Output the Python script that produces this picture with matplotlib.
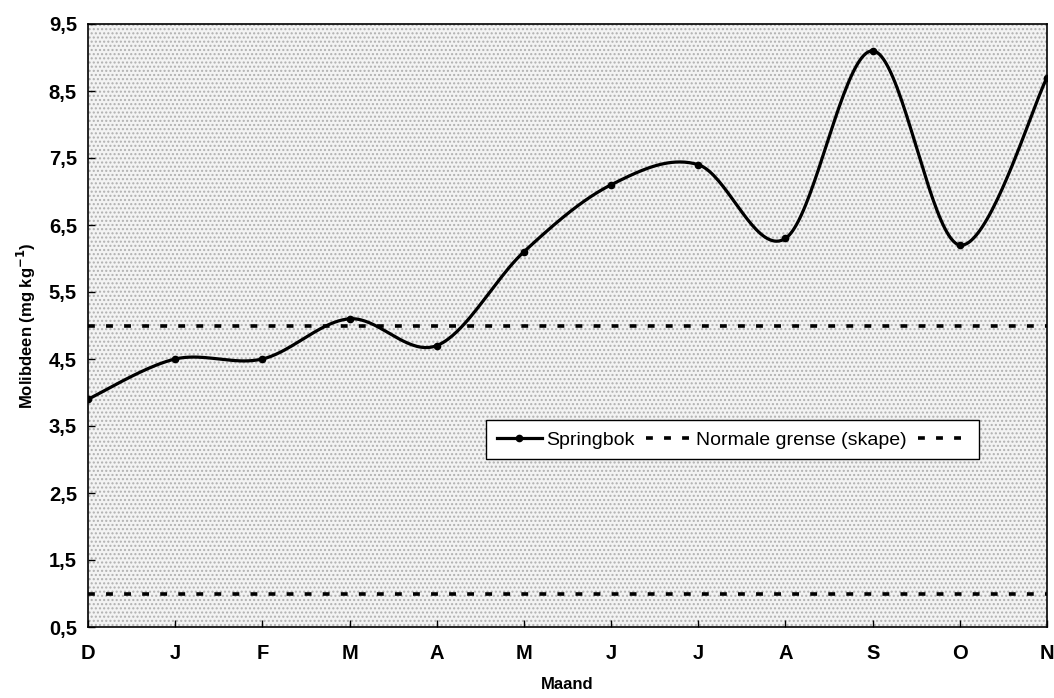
import numpy as np
import matplotlib
matplotlib.use('Agg')
from matplotlib import pyplot as plt
from matplotlib.patches import Rectangle

# data
months = ['D', 'J', 'F', 'M', 'A', 'M', 'J', 'J', 'A', 'S', 'O', 'N']
springbok = [3.9, 4.5, 4.5, 5.1, 4.7, 6.1, 7.1, 7.4, 6.3, 9.1, 6.2, 8.7]
grens_hoog = [5.0] * 12
grens_laag = [1.0] * 12
y_ticks = [0.5, 1.5, 2.5, 3.5, 4.5, 5.5, 6.5, 7.5, 8.5, 9.5]


def smooth(x, y, n=40):
    # Catmull-Rom style bezier, the same smoothing a spreadsheet uses
    x = np.asarray(x, float)
    y = np.asarray(y, float)
    px = np.concatenate([[x[0]], x, [x[-1]]])
    py = np.concatenate([[y[0]], y, [y[-1]]])
    xs, ys = [], []
    t = np.linspace(0, 1, n)
    for i in range(1, len(px) - 2):
        p0 = np.array([px[i], py[i]])
        p3 = np.array([px[i + 1], py[i + 1]])
        p1 = p0 + (p3 - np.array([px[i - 1], py[i - 1]])) / 6
        p2 = p3 - (np.array([px[i + 2], py[i + 2]]) - p0) / 6
        b = ((1 - t) ** 3)[:, None] * p0 + (3 * (1 - t) ** 2 * t)[:, None] * p1 \
            + (3 * (1 - t) * t ** 2)[:, None] * p2 + (t ** 3)[:, None] * p3
        xs.append(b[:, 0])
        ys.append(b[:, 1])
    return np.concatenate(xs), np.concatenate(ys)


plt.rcParams['font.family'] = ['Liberation Sans', 'DejaVu Sans']
plt.rcParams['hatch.linewidth'] = 1.0

fig = plt.figure(figsize=(10.54, 6.98), dpi=100)
ax = fig.add_axes([88 / 1054, 1 - 627 / 698, 959 / 1054, 603 / 698])
ax.set_facecolor('#f3f3f3')
# stippled background
ax.add_patch(Rectangle((0, 0), 1, 1, transform=ax.transAxes, facecolor='none',
                       edgecolor='#b0b0b0', lw=0, hatch='....', zorder=0.5))

x = np.arange(len(months))
xs, ys = smooth(x, springbok)
ax.plot(xs, ys, color='black', lw=2.3, zorder=3)
ax.plot(x, springbok, 'o', color='black', ms=4.5, zorder=4)

dots = (0, (1.9, 3.1))
ax.plot(x, grens_hoog, color='black', lw=2.6, ls=dots)
ax.plot(x, grens_laag, color='black', lw=2.6, ls=dots)

# legend handles
h1, = ax.plot([], [], color='black', lw=2.3, marker='o', ms=4.5)
h2, = ax.plot([], [], color='black', lw=2.6, ls=dots)
h3, = ax.plot([], [], color='black', lw=2.6, ls=dots)
leg = ax.legend([h1, h2, h3], ['Springbok', 'Normale grense (skape)', ''],
                ncol=3, loc='lower left', bbox_to_anchor=(0.405, 0.262),
                fontsize=14, frameon=True, fancybox=False, framealpha=1,
                edgecolor='black', handlelength=2.3, columnspacing=0.6,
                handletextpad=0.25, borderpad=0.55)
leg.get_frame().set_linewidth(1.0)

ax.set_xlim(0, len(months) - 1)
ax.set_ylim(0.5, 9.5)
ax.set_xticks(x)
ax.set_xticklabels(months)
ax.set_yticks(y_ticks)
ax.set_yticklabels([f'{v:.1f}'.replace('.', ',') for v in y_ticks])
ax.tick_params(direction='in', length=5, width=1, labelsize=14.5, pad=8)
ax.tick_params(axis='x', pad=12)
for lab in ax.get_xticklabels() + ax.get_yticklabels():
    lab.set_fontweight('bold')
for s in ax.spines.values():
    s.set_linewidth(1.2)

ax.set_ylabel('Molibdeen (mg kg$^{\\mathbf{-1}}$)', fontsize=12, fontweight='bold', labelpad=8)
ax.set_xlabel('Maand', fontsize=12, fontweight='bold', labelpad=10)

fig.savefig('out.png', dpi=100)
